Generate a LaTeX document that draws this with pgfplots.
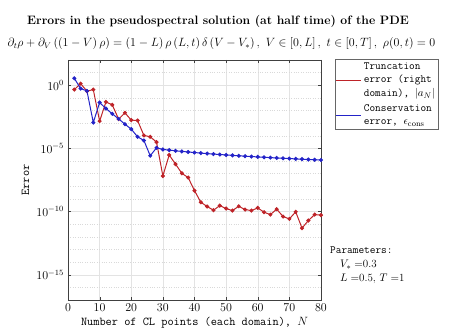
\documentclass[border=0pt]{standalone}
\usepackage{pgfplots}
\pgfplotsset{compat=1.18}
\definecolor{myred}{RGB}{190,35,40}
\definecolor{myblue}{RGB}{35,35,200}
\begin{document}
\fontsize{12}{14}\selectfont
\begin{tikzpicture}[x=1pt,y=1pt]
\path[use as bounding box] (-68pt,-34pt) rectangle (391pt,300pt);
\begin{axis}[
  at={(0pt,0pt)}, anchor=south west,
  scale only axis, width=253pt, height=240pt,
  ymode=log, xmin=0, xmax=80, ymin=1e-17, ymax=1e2,
  xtick={0,10,...,80},
  ytick={1e-15,1e-10,1e-5,1},
  minor ytick={1e-17,1e-16,1e-14,1e-13,1e-12,1e-11,1e-9,1e-8,1e-7,1e-6,1e-4,1e-3,1e-2,1e-1,1e1,1e2},
  log basis y=10,
  grid=both,
  major grid style={gray!22, line width=0.4pt},
  minor grid style={gray!30, dotted, line width=0.4pt},
  tick align=inside, major tick length=3pt, minor tick length=0pt,
  axis line style={black!75},
  tick style={black!75},
  ticklabel style={font=\fontsize{12}{14}\selectfont},
  xlabel={\ttfamily Number of CL points (each domain), $N$},
  ylabel={\ttfamily Error},
  label style={font=\fontsize{12}{14}\selectfont},
  xlabel style={yshift=3pt},
  ylabel style={yshift=-1pt},
  legend style={at={(1,1)}, anchor=north west, xshift=13.7pt, yshift=0.5pt,
    font=\fontsize{11}{13.5}\selectfont\ttfamily,
    draw=black!60, inner sep=1pt, row sep=2pt,
    nodes={align=left, inner sep=2pt}},
  legend cell align=left,
  legend image code/.code={\draw[#1, mark=none, line width=1pt] (0pt,0pt) -- (25pt,0pt);},
]
\addplot[myred, line width=1pt, mark=*, mark size=1.5pt] coordinates {
(2,0.457) (4,1.349) (6,0.339) (8,0.457) (10,1.445e-3) (12,4.786e-2) (14,2.818e-2)
(16,2.089e-3) (18,6.607e-3) (20,1.738e-3) (22,1.622e-3) (24,1.072e-4) (26,8.318e-5)
(28,3.162e-5) (30,6.607e-8) (32,3.020e-6) (34,5.754e-7) (36,1.072e-7) (38,4.898e-8)
(40,4.571e-9) (42,5.495e-10) (44,2.512e-10) (46,1.288e-10) (48,2.951e-10) (50,1.738e-10)
(52,1.202e-10) (54,2.630e-10) (56,1.445e-10) (58,1.202e-10) (60,1.950e-10) (62,8.913e-11)
(64,5.754e-11) (66,1.549e-10) (68,4.074e-11) (70,2.630e-11) (72,9.550e-11) (74,4.898e-12)
(76,1.950e-11) (78,5.754e-11) (80,5.248e-11)
};
\addlegendentry{Truncation\\error (right\\domain), $|a_N|$}
\addplot[myblue, line width=1pt, mark=*, mark size=1.5pt] coordinates {
(2,3.548) (4,0.5495) (6,0.3548) (8,1.122e-3) (10,4.266e-2) (12,1.445e-2) (14,5.495e-3)
(16,2.188e-3) (18,8.318e-4) (20,3.388e-4) (22,8.318e-5) (24,4.266e-5) (26,2.630e-6)
(28,1.122e-5) (30,8.318e-6) (32,7.328e-6) (34,6.501e-6) (36,5.808e-6) (38,5.224e-6)
(40,4.721e-6) (42,4.285e-6) (44,3.908e-6) (46,3.581e-6) (48,3.296e-6) (50,3.041e-6)
(52,2.818e-6) (54,2.612e-6) (56,2.432e-6) (58,2.270e-6) (60,2.123e-6) (62,1.991e-6)
(64,1.871e-6) (66,1.762e-6) (68,1.660e-6) (70,1.567e-6) (72,1.483e-6) (74,1.406e-6)
(76,1.334e-6) (78,1.268e-6) (80,1.205e-6)
};
\addlegendentry{Conservation\\error, $\epsilon_{\mathrm{cons}}$}
\end{axis}
\node[font=\fontsize{12.2}{14}\selectfont\bfseries] at (150pt,279pt) {Errors in the pseudospectral solution (at half time) of the PDE};
\node[font=\fontsize{12}{14}\selectfont] at (153.5pt,256pt) {$\partial_t\rho+\partial_V\left(\left(1-V\right)\rho\right)=\left(1-L\right)\rho\left(L,t\right)\delta\left(V-V_{*}\right),\ V\in\left[0,L\right],\ t\in\left[0,T\right],\ \rho(0,t)=0$};
\node[anchor=north west, align=left, font=\fontsize{11}{14}\selectfont, inner sep=0pt] at (262pt,53pt) {\ttfamily Parameters:\\\hspace*{10pt}$V_{*}=$0.3\\\hspace*{10pt}$L=$0.5, $T=$1};
\end{tikzpicture}
\end{document}
